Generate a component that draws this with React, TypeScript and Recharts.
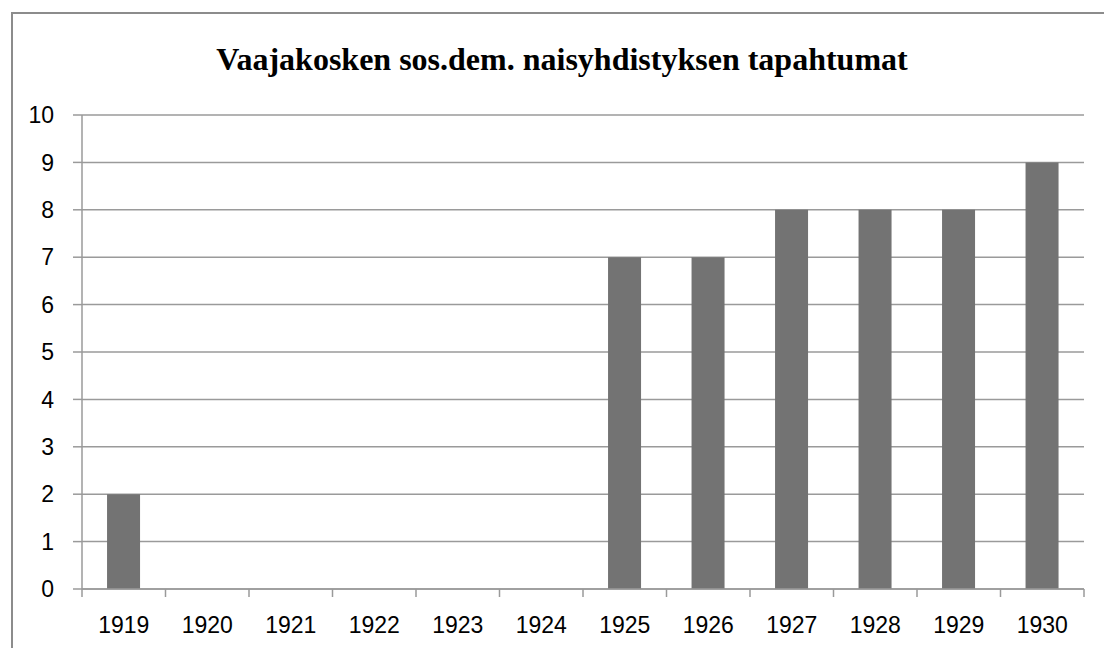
import { BarChart, Bar, XAxis, YAxis, CartesianGrid } from "recharts";

const years = ["1919", "1920", "1921", "1922", "1923", "1924", "1925", "1926", "1927", "1928", "1929", "1930"];
const events = [2, 0, 0, 0, 0, 0, 7, 7, 8, 8, 8, 9];
const yTicks = [0, 1, 2, 3, 4, 5, 6, 7, 8, 9, 10];

const data = years.map((year, i) => ({ year, events: events[i] }));

const W = 1104;
const H = 648;
const xAxisHeight = 30;
const margin = { top: 115, right: 20, bottom: 59 - xAxisHeight, left: 0 };
const yAxisWidth = 82;
const band = (W - margin.left - margin.right - yAxisWidth) / years.length;
const gridColor = "#9a9a9a";
const labelFont = "'Liberation Sans', Arial, sans-serif";

function YearTick(props: any) {
  const { x, y, payload, index } = props;
  const axisY = y - 28;
  return (
    <g>
      <line x1={x - band / 2} y1={axisY} x2={x - band / 2} y2={axisY + 8} stroke={gridColor} strokeWidth={1.5} />
      {index === years.length - 1 && (
        <line x1={x + band / 2} y1={axisY} x2={x + band / 2} y2={axisY + 8} stroke={gridColor} strokeWidth={1.5} />
      )}
      <text x={x} y={y} dy="0.71em" textAnchor="middle" fill="#000" fontSize={23} fontFamily={labelFont}>
        {payload.value}
      </text>
    </g>
  );
}

export default function App() {
  return (
    <div style={{ position: "absolute", left: 0, top: 0, width: W, height: H, background: "#fff" }}>
      <div
        style={{
          position: "absolute",
          left: 11,
          top: 12,
          right: 0,
          bottom: 0,
          borderTop: "2px solid #8c8c8c",
          borderLeft: "2px solid #8c8c8c",
        }}
      />
      <div
        style={{
          position: "absolute",
          left: 0,
          width: 1124,
          top: 39,
          textAlign: "center",
          fontFamily: "'Liberation Serif', 'Times New Roman', serif",
          fontWeight: "bold",
          fontSize: 32,
          lineHeight: "40px",
          color: "#000",
        }}
      >
        Vaajakosken sos.dem. naisyhdistyksen tapahtumat
      </div>
      <div style={{ position: "absolute", left: 0, top: 0 }}>
        <BarChart width={W} height={H} data={data} margin={margin} barCategoryGap="30%">
          <CartesianGrid vertical={false} stroke={gridColor} strokeWidth={1.5} />
          <XAxis
            dataKey="year"
            height={xAxisHeight}
            axisLine={{ stroke: gridColor, strokeWidth: 1.5 }}
            tickLine={false}
            tickSize={8}
            tickMargin={20}
            tick={<YearTick />}
            interval={0}
          />
          <YAxis
            width={yAxisWidth}
            domain={[0, 10]}
            ticks={yTicks}
            interval={0}
            axisLine={{ stroke: gridColor, strokeWidth: 1.5 }}
            tickLine={{ stroke: gridColor, strokeWidth: 1.5 }}
            tickSize={9}
            tickMargin={19}
            tick={{ fill: "#000", fontSize: 23, fontFamily: labelFont }}
          />
          <Bar dataKey="events" fill="#737373" isAnimationActive={false} />
        </BarChart>
      </div>
    </div>
  );
}
